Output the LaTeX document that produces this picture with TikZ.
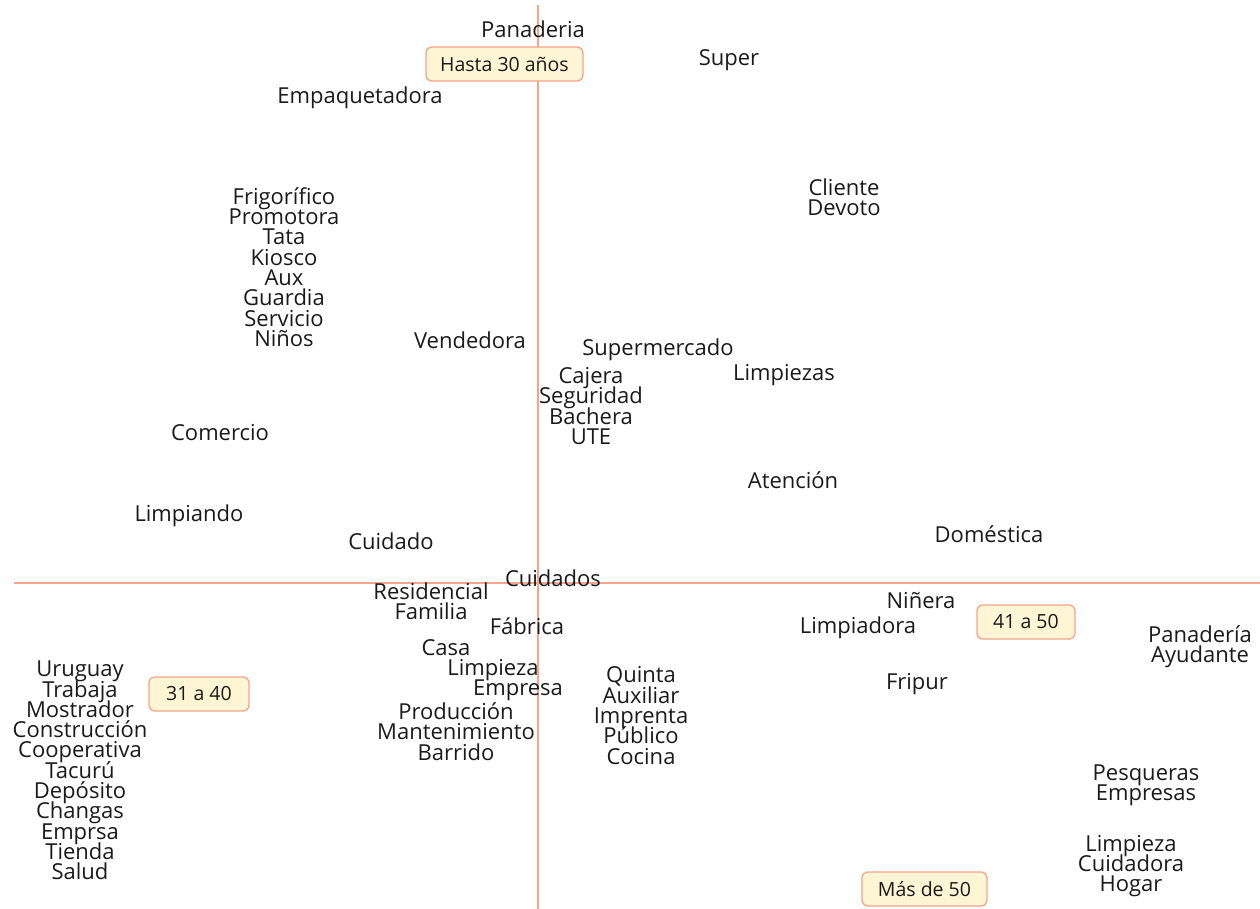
\documentclass[tikz,border=0pt]{standalone}
\usepackage{fontspec}
\setmainfont{Open Sans}
\definecolor{axis}{HTML}{F4A58A}
\definecolor{boxfill}{HTML}{FDF5D3}
\definecolor{txt}{HTML}{1A1A1A}
\newcommand\mywordfont{\fontsize{22}{20.3}\selectfont\lineskiplimit=-50pt\relax\lineskip=0pt\relax}
\tikzset{
  word/.style={text=txt, align=center, inner sep=0pt, font=\mywordfont},
  agebox/.style={draw=axis, fill=boxfill, line width=1.3pt, rounded corners=6pt, text=txt,
    font=\fontsize{19.5}{18}\selectfont, inner sep=0pt, minimum height=34pt},
  axisline/.style={draw=axis, line width=1.5pt}
}
\begin{document}
\begin{tikzpicture}[x=1pt,y=-1pt]
\useasboundingbox (0,0) rectangle (1260,909);
\coordinate (hl) at (14,583);
\coordinate (hr) at (1260,583);
\coordinate (vt) at (538,5);
\coordinate (vb) at (538,909);
\draw[axisline] (hl) -- (hr);
\draw[axisline] (vt) -- (vb);

\node[word] (panaderia) at (533,29) {Panaderia};
\node[word] (super) at (729,60) {Super};
\node[word] (empaq) at (360,98) {Empaquetadora};
\node[word] (cliente) at (844,197.5) {Cliente\\Devoto};
\node[word] (frigo) at (284,267) {Frigorífico\\Promotora\\Tata\\Kiosco\\Aux\\Guardia\\Servicio\\Niños};
\node[word] (vendedora) at (470,340) {Vendedora};
\node[word] (supermercado) at (658,350) {Supermercado};
\node[word] (limpiezas) at (784,375) {Limpiezas};
\node[word] (cajera) at (591,406) {Cajera\\Seguridad\\Bachera\\UTE};
\node[word] (comercio) at (220,433) {Comercio};
\node[word] (atencion) at (793,480) {Atención};
\node[word] (limpiando) at (189,516) {Limpiando};
\node[word] (domestica) at (989,534) {Doméstica};
\node[word] (cuidado) at (391,541) {Cuidado};
\node[word] (cuidados) at (553,578) {Cuidados};
\node[word] (residencial) at (431,601) {Residencial\\Familia};
\node[word] (ninera) at (921,601) {Niñera};
\node[word] (limpiadora) at (858,628) {Limpiadora};
\node[word] (fabrica) at (527,626) {Fábrica};
\node[word] (panaderia2) at (1200,646.5) {Panadería\\Ayudante};
\node[word] (casa) at (446,648) {Casa};
\node[word] (limpieza) at (493,670) {Limpieza};
\node[word] (empresa) at (518,690) {Empresa};
\node[word] (quinta) at (641,715.5) {Quinta\\Auxiliar\\Imprenta\\Público\\Cocina};
\node[word] (fripur) at (917,684) {Fripur};
\node[word] (uruguay) at (80,770.5) {Uruguay\\Trabaja\\Mostrador\\Construcción\\Cooperativa\\Tacurú\\Depósito\\Changas\\Emprsa\\Tienda\\Salud};
\node[word] (produccion) at (456,731.5) {Producción\\Mantenimiento\\Barrido};
\node[word] (pesqueras) at (1146,785) {Pesqueras\\Empresas};
\node[word] (limpieza2) at (1131,866) {Limpieza\\Cuidadora\\Hogar};

\node[agebox, minimum width=157pt] (b30) at (504.5,64) {Hasta 30 años};
\node[agebox, minimum width=100pt] (b40) at (199,694) {31 a 40};
\node[agebox, minimum width=98pt] (b50) at (1026,622) {41 a 50};
\node[agebox, minimum width=125pt] (b60) at (924.5,889) {Más de 50};
\end{tikzpicture}
\end{document}
